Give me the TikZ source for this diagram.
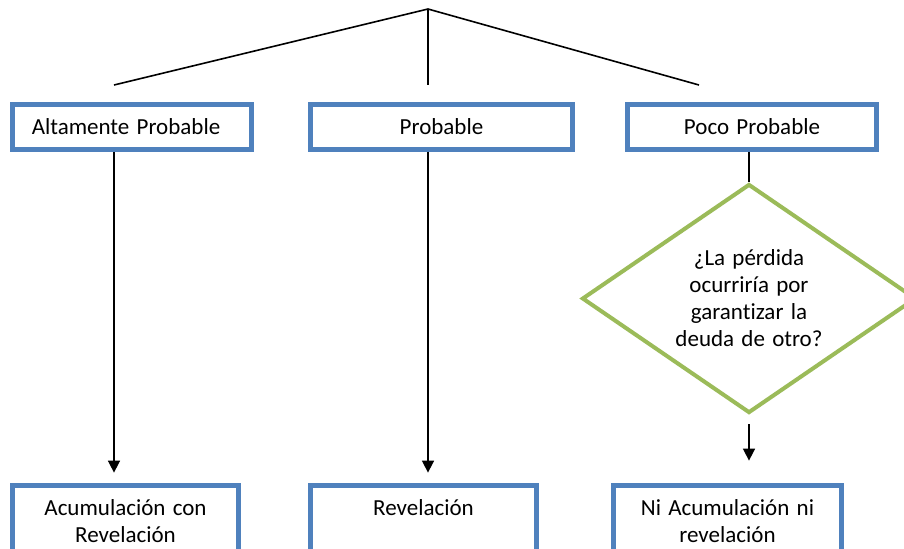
\documentclass[tikz,border=0pt]{standalone}
\usepackage{fontspec}
\setmainfont[Ligatures=NoCommon,WordSpace=1.4]{Carlito}
\usetikzlibrary{shapes.geometric,arrows.meta}
\definecolor{boxblue}{HTML}{4F81BD}
\definecolor{dgreen}{HTML}{9BBB59}
\tikzset{
  box/.style={draw=boxblue, line width=2.4pt, fill=white, rectangle, inner sep=0pt},
  txt/.style={font=\fontsize{11.5pt}{13.5pt}\selectfont, align=center, inner sep=0pt},
  dec/.style={draw=dgreen, line width=2pt, fill=white, shape=diamond, aspect=1.46, inner sep=0pt,
    minimum width=167pt, minimum height=114.5pt, font=\fontsize{11.5pt}{13.5pt}\selectfont, align=center},
  conn/.style={line width=0.8pt, black},
  arr/.style={conn, -{Triangle[length=6pt,width=6pt]}}
}
\begin{document}
\begin{tikzpicture}[x=0.5pt,y=-0.5pt]
\useasboundingbox (0,0) rectangle (904,548);
\clip (0,0) rectangle (904,548);
% top tree
\coordinate (apex) at (428,9);
\coordinate (e1) at (114,85);
\coordinate (e2) at (428,85);
\coordinate (e3) at (699,85);
\draw[conn] (e1) -- (apex) -- (e3);
\draw[conn] (apex) -- (e2);
% top boxes
\node[box, minimum width=119.5pt, minimum height=22.5pt] (b1) at (132,127) {};
\node[txt] (t1) at (126,127) {Altamente Probable};
\node[box, minimum width=131pt, minimum height=22.5pt] (b2) at (441.5,127) {};
\node[txt] (t2) at (441.5,127) {Probable};
\node[box, minimum width=124.5pt, minimum height=22.5pt] (b3) at (752,127) {};
\node[txt] (t3) at (752,127) {Poco Probable};
% diamond
\node[dec] (dia) at (749,298.5) {¿La pérdida\\ocurriría por\\garantizar la\\deuda de otro?};
% bottom boxes
\node[box, minimum width=113pt, minimum height=57pt] (b4) at (125.5,542.5) {};
\node[txt] (t4) at (125.5,521.5) {Acumulación con\\Revelación};
\node[box, minimum width=113pt, minimum height=57pt] (b5) at (423.5,542.5) {};
\node[txt] (t5) at (423.5,508) {Revelación};
\node[box, minimum width=114pt, minimum height=57pt] (b6) at (727.5,542.5) {};
\node[txt] (t6) at (727.5,521.5) {Ni Acumulación ni\\revelación};
% connectors
\draw[arr, shorten >=5.25pt] (e1 |- b1.south) -- (e1 |- b4.north);
\draw[arr, shorten >=5.25pt] (e2 |- b2.south) -- (e2 |- b5.north);
\draw[conn] (dia.north |- b3.south) -- (dia.north);
\draw[arr, shorten >=11.25pt] ([yshift=-4.5pt]dia.south) -- (dia.south |- b6.north);
\end{tikzpicture}
\end{document}
